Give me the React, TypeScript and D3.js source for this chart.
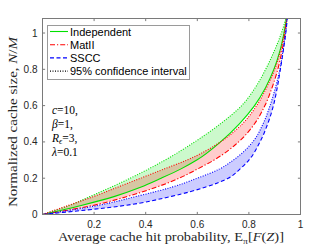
import React from 'react'
import * as d3 from 'd3'

// normalized cache size N/M (shared grid for every curve)
const cacheSize = [0, 0.05, 0.1, 0.15, 0.2, 0.25, 0.3, 0.4, 0.5, 0.6, 0.7, 0.8, 0.9, 1.0, 1.1]

// average hit probability for each model, and the outer 95% CI edge
const indepHit = [0, 0.15, 0.28, 0.38, 0.46, 0.535, 0.598, 0.69, 0.763, 0.822, 0.865, 0.897, 0.92, 0.936, 0.948]
const indepHitCi = [0, 0.105, 0.185, 0.265, 0.34, 0.41, 0.475, 0.59, 0.69, 0.772, 0.825, 0.865, 0.898, 0.926, 0.947]
const matIIHit = [0, 0.195, 0.33, 0.44, 0.53, 0.6, 0.665, 0.76, 0.822, 0.862, 0.89, 0.912, 0.928, 0.94, 0.949]
const matIIHitCi = [0, 0.1, 0.2, 0.29, 0.38, 0.47, 0.56, 0.69, 0.775, 0.83, 0.869, 0.9, 0.922, 0.937, 0.948]
const ssccHit = [0, 0.32, 0.5, 0.63, 0.72, 0.765, 0.8, 0.843, 0.873, 0.895, 0.91, 0.922, 0.933, 0.943, 0.95]
const ssccHitCi = [0, 0.215, 0.365, 0.5, 0.6, 0.685, 0.74, 0.815, 0.855, 0.882, 0.903, 0.92, 0.932, 0.942, 0.949]

const xTicks = [0.2, 0.4, 0.6, 0.8, 1]
const yTicks = [0, 0.2, 0.4, 0.6, 0.8, 1]
const params = ['c', 'β', 'R', 'λ']
const paramValues = ['10,', '1,', '3,', '0.1']

const W = 332
const H = 249

const series = [
  { name: 'Independent', color: '#00e000', hit: indepHit, ci: indepHitCi, dash: undefined },
  { name: 'MatII', color: '#ff0000', hit: matIIHit, ci: matIIHitCi, dash: '5,2,1.2,2' },
  { name: 'SSCC', color: '#0000ff', hit: ssccHit, ci: ssccHitCi, dash: '4,2.5' }
]

export default function App() {
  const x = d3.scaleLinear().domain([0, 1]).range([42.5, 300.5])
  const y = d3.scaleLinear().domain([0, 1.08]).range([214.5, 18.5])

  // hit probability is on x, cache size on y, so curves are drawn along y
  const curve = (hit: number[]) =>
    d3
      .line<number>()
      .x((d, i) => x(hit[i]))
      .y(d => y(d))
      .curve(d3.curveMonotoneY)(cacheSize) || ''

  const band = (a: number[], b: number[]) =>
    d3
      .area<number>()
      .y(d => y(d))
      .x0((d, i) => x(a[i]))
      .x1((d, i) => x(b[i]))
      .curve(d3.curveMonotoneY)(cacheSize) || ''

  const [x0, x1] = x.range()
  const [yb, yt] = y.range()
  const tick = 2.6
  const axisColor = '#262626'
  const sans = 'Liberation Sans, Arial, Helvetica, sans-serif'
  const serif = 'Liberation Serif, Times New Roman, serif'

  const legendItems = [
    ...series.map(s => ({ name: s.name, color: s.color, dash: s.dash })),
    { name: '95% confidence interval', color: '#000', dash: '1,1.5' }
  ]

  return (
    <svg
      width={W}
      height={H}
      style={{ position: 'absolute', left: 0, top: 0, background: '#fff' }}
    >
      <defs>
        <clipPath id="plot">
          <rect x={x0} y={yt} width={x1 - x0} height={yb - yt} />
        </clipPath>
      </defs>

      <g clipPath="url(#plot)">
        {series.map(s => (
          <path key={s.name + 'band'} d={band(s.ci, s.hit)} fill={s.color} fillOpacity={0.2} stroke="none" />
        ))}
        {series.map(s => (
          <g key={s.name} fill="none" strokeWidth={1.1}>
            <path d={curve(s.ci)} stroke={s.color} strokeDasharray="1,1.5" />
            <path d={curve(s.hit)} stroke={s.color} strokeDasharray={s.dash} />
          </g>
        ))}
      </g>

      {/* axes box */}
      <rect x={x0} y={yt} width={x1 - x0} height={yb - yt} fill="none" stroke="#7a7a7a" strokeWidth={1} />
      {xTicks.map(t => (
        <g key={'xt' + t}>
          <line x1={x(t)} x2={x(t)} y1={yb} y2={yb - tick} stroke="#7a7a7a" />
          <line x1={x(t)} x2={x(t)} y1={yt} y2={yt + tick} stroke="#7a7a7a" />
          <text x={x(t)} y={228} textAnchor="middle" fontFamily={sans} fontSize={10} fill={axisColor}>
            {t}
          </text>
        </g>
      ))}
      {yTicks.map(t => (
        <g key={'yt' + t}>
          <line x1={x0} x2={x0 + tick} y1={y(t)} y2={y(t)} stroke="#7a7a7a" />
          <line x1={x1} x2={x1 - tick} y1={y(t)} y2={y(t)} stroke="#7a7a7a" />
          <text x={37.5} y={y(t) + 3.5} textAnchor="end" fontFamily={sans} fontSize={10} fill={axisColor}>
            {t}
          </text>
        </g>
      ))}

      {/* axis labels */}
      <text
        x={171}
        y={241}
        textAnchor="middle"
        fontFamily={serif}
        fontSize={12}
        fill={axisColor}
        textLength={226}
        lengthAdjust="spacingAndGlyphs"
      >
        Average cache hit probability, E
        <tspan fontSize={8} dy={2.5}>π</tspan>
        <tspan dy={-2.5}>[</tspan>
        <tspan fontStyle="italic">F</tspan>(<tspan fontStyle="italic">Z</tspan>)]
      </text>
      <text
        transform="translate(17,122) rotate(-90)"
        textAnchor="middle"
        fontFamily={serif}
        fontSize={12.5}
        fill={axisColor}
        textLength={170}
        lengthAdjust="spacingAndGlyphs"
      >
        Normalized cache size, <tspan fontStyle="italic">N</tspan>/<tspan fontStyle="italic">M</tspan>
      </text>

      {/* parameter annotation */}
      {params.map((p, i) => (
        <text key={p} x={52} y={114 + i * 14} fontFamily={serif} fontSize={11.5} fill="#000">
          <tspan fontStyle="italic">{p}</tspan>
          {p === 'R' && (
            <tspan fontStyle="italic" fontSize={8} dy={2}>
              ϵ
            </tspan>
          )}
          <tspan dy={p === 'R' ? -2 : 0}>={paramValues[i]}</tspan>
        </text>
      ))}

      {/* legend */}
      <rect x={47.5} y={25.5} width={142} height={54} fill="#fff" stroke="#9a9a9a" />
      {legendItems.map((l, i) => {
        const ly = 31.5 + i * 13.2
        return (
          <g key={l.name}>
            <line x1={50} x2={68} y1={ly} y2={ly} stroke={l.color} strokeWidth={1.1} strokeDasharray={l.dash} />
            <text x={70} y={ly + 4} fontFamily={sans} fontSize={11} fill="#000">
              {l.name}
            </text>
          </g>
        )
      })}
    </svg>
  )
}
